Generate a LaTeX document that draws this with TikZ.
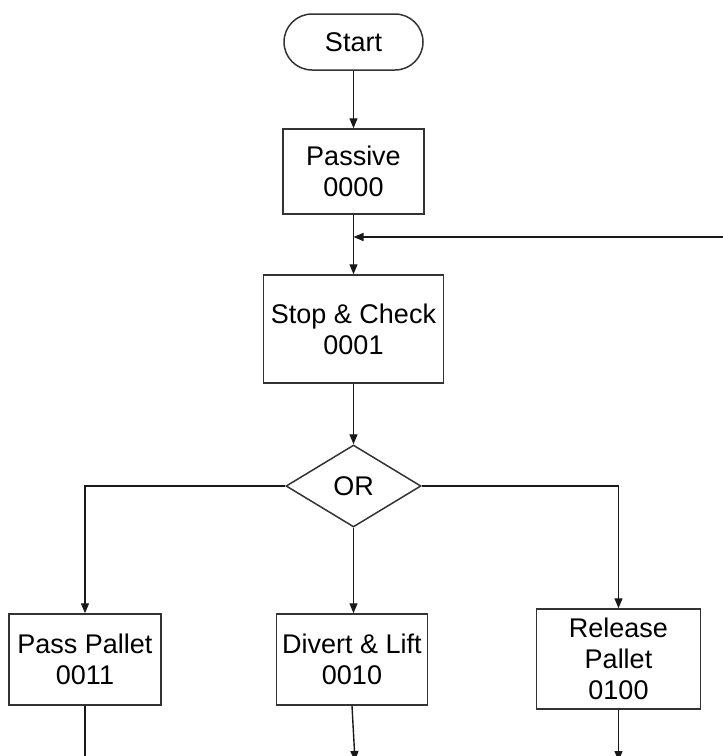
\documentclass[tikz,border=0pt]{standalone}
\usepackage{fontspec}
\setmainfont{Liberation Sans}
\usetikzlibrary{arrows.meta,shapes.geometric}

\tikzset{
  flow/.style={draw=black!80, line width=1.5pt, fill=white, align=center,
               inner sep=0pt, font=\fontsize{27}{31}\selectfont},
  stepbox/.style={flow, rectangle},
  termbox/.style={flow, rectangle, rounded corners=28pt},
  choice/.style={flow, diamond, aspect=1.65},
  link/.style={draw=black!90, line width=1.4pt},
  arrowlink/.style={link, -{Triangle[length=10pt,width=8pt]}}
}

\begin{document}
\begin{tikzpicture}[x=1pt,y=-1pt]
  \clip (0,0) rectangle (723,756);
  \fill[white] (0,0) rectangle (723,756);

  % states
  \node[termbox, minimum width=139pt, minimum height=56pt] (start) at (353.5,42) {Start};
  \node[stepbox, minimum width=141pt, minimum height=85pt] (passive) at (353.5,171.5) {Passive\\0000};
  \node[stepbox, minimum width=180pt, minimum height=108pt] (stop) at (353.5,329) {Stop \& Check\\0001};
  \node[choice, minimum width=135pt, minimum height=82pt] (or) at (353.5,486) {OR};
  \node[stepbox, minimum width=152pt, minimum height=91pt] (pass) at (85,659.5) {Pass Pallet\\0011};
  \node[stepbox, minimum width=151pt, minimum height=91pt] (divert) at (352,659.5) {Divert \& Lift\\0010};
  \node[stepbox, minimum width=164pt, minimum height=100pt] (release) at (618.5,659) {Release\\Pallet\\0100};

  % loose ends of the connectors
  \coordinate (back) at (724,237);
  \coordinate (merge) at (353.5,237);
  \coordinate (passout) at (85,764);
  \coordinate (divertout) at (355,761);
  \coordinate (releaseout) at (618.5,761);

  % main flow
  \draw[arrowlink] (start) -- (passive);
  \draw[arrowlink] (passive) -- (stop);
  \draw[arrowlink] (back) -- (merge);
  \draw[arrowlink] (stop) -- (or);

  % branches
  \draw[arrowlink] (or.west) -| (pass.north);
  \draw[arrowlink] (or.south) -- (or.south |- divert.north);
  \draw[arrowlink] (or.east) -| (release.north);

  % outgoing
  \draw[link] (pass.south) -- (passout);
  \draw[arrowlink] (divert.south) -- (divertout);
  \draw[arrowlink] (release.south) -- (releaseout);
\end{tikzpicture}
\end{document}
